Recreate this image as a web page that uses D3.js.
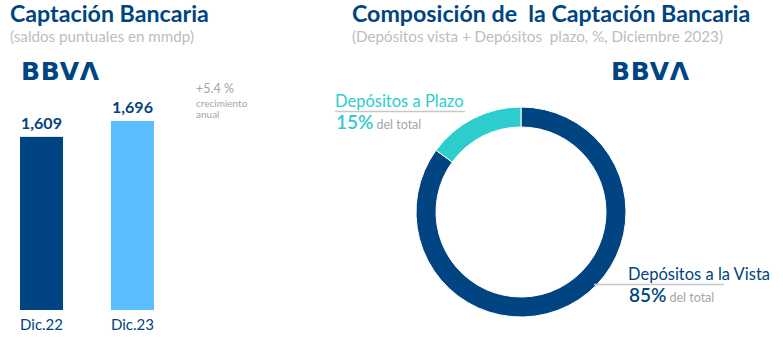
<!DOCTYPE html>
<html>
<head>
<meta charset="utf-8">
<script src="https://cdn.jsdelivr.net/npm/d3@7/dist/d3.min.js"></script>
<style>
  html, body { margin: 0; padding: 0; background: #fff; }
  svg { display: block; font-family: Lato, "Open Sans", sans-serif; }
</style>
</head>
<body>
<svg id="chart" width="783" height="348"></svg>
<script>
// Balances (mmdp)
const periods = ["Dic.22", "Dic.23"];
const balances = [1609, 1696];
const balanceLabels = ["1,609", "1,696"];
const growthText = "+5.4 %";

// Deposit composition, December 2023 (%)
const depositTypes = ["Depósitos a la Vista", "Depósitos a Plazo"];
const depositShares = [85, 15];

const navy = "#004481";
const lightBlue = "#5bbeff";
const teal = "#2dcccd";
const grey = "#bdbdbd";

const svg = d3.select("#chart");

// ---------- Titles ----------
svg.append("text").attr("x", 10).attr("y", 22)
  .attr("font-size", 23.2).attr("font-weight", 700).attr("fill", navy)
  .text("Captación Bancaria");
svg.append("text").attr("x", 10).attr("y", 42)
  .attr("font-size", 15.2).attr("fill", grey)
  .text("(saldos puntuales en mmdp)");

svg.append("text").attr("x", 352).attr("y", 22)
  .attr("font-size", 23.2).attr("font-weight", 700).attr("fill", navy)
  .style("white-space", "pre")
  .text("Composición de  la Captación Bancaria");
svg.append("text").attr("x", 352).attr("y", 42)
  .attr("font-size", 15.2).attr("fill", grey)
  .style("white-space", "pre")
  .text("(Depósitos vista + Depósitos  plazo, %, Diciembre 2023)");

// ---------- Logos ----------
function logo(x, y) {
  const t = svg.append("text").attr("x", x).attr("y", y)
    .attr("font-family", "DejaVu Sans, sans-serif")
    .attr("font-size", 25).attr("font-weight", 700).attr("fill", navy)
    .attr("letter-spacing", 0.8);
  t.append("tspan").text("BBV");
  t.append("tspan").text("Λ");
}
logo(21, 80);
logo(611, 80);

// ---------- Bar chart ----------
const x = d3.scaleBand().domain(periods).range([20, 154]).paddingInner(0.527).paddingOuter(0);
const y = d3.scaleLinear().domain([660, 1696]).range([310, 121]);
const barColors = d3.scaleOrdinal().domain(periods).range([navy, lightBlue]);

svg.append("g").selectAll("rect").data(periods).join("rect")
  .attr("x", d => x(d))
  .attr("y", (d, i) => y(balances[i]))
  .attr("width", x.bandwidth())
  .attr("height", (d, i) => y.range()[0] - y(balances[i]))
  .attr("fill", d => barColors(d));

svg.append("g").selectAll("text").data(periods).join("text")
  .attr("x", d => x(d) + x.bandwidth() / 2)
  .attr("y", (d, i) => y(balances[i]) - 8)
  .attr("text-anchor", "middle")
  .attr("font-size", 16).attr("font-weight", 700).attr("fill", navy)
  .text((d, i) => balanceLabels[i]);

const xAxis = svg.append("g").attr("transform", "translate(0,310)")
  .call(d3.axisBottom(x).tickSize(0).tickPadding(6));
xAxis.select(".domain").remove();
xAxis.selectAll("text")
  .attr("font-family", "Lato, sans-serif")
  .attr("font-size", 15).attr("fill", navy).attr("dy", "0.95em");

// Growth annotation
svg.append("text").attr("x", 196).attr("y", 93)
  .attr("font-size", 12.5).attr("fill", "#a6a6a6").text(growthText);
svg.append("text").attr("x", 196).attr("y", 107)
  .attr("font-size", 10).attr("fill", "#a6a6a6").text("crecimiento");
svg.append("text").attr("x", 196).attr("y", 118)
  .attr("font-size", 10).attr("fill", "#a6a6a6").text("anual");

// ---------- Donut ----------
const cx = 521, cy = 212;
const pie = d3.pie().sort(null).value(d => d)(depositShares);
const arc = d3.arc().innerRadius(85).outerRadius(105);
const donutColors = [navy, teal];

svg.append("g").attr("transform", `translate(${cx},${cy})`)
  .selectAll("path").data(pie).join("path")
  .attr("d", arc)
  .attr("fill", (d, i) => donutColors[i])
  .attr("stroke", "#fff").attr("stroke-width", 1);

// Callouts
function callout(lx, ly, x1, x2, name, share, color) {
  svg.append("text").attr("x", lx).attr("y", ly)
    .attr("font-size", 16.5).attr("fill", color).text(name);
  svg.append("line").attr("x1", x1).attr("x2", x2)
    .attr("y1", ly + 4.5).attr("y2", ly + 4.5)
    .attr("stroke", "#c8c8c8").attr("stroke-width", 1.3);
  const t = svg.append("text").attr("x", lx + 1).attr("y", ly + 21.5);
  t.append("tspan").attr("font-size", 19).attr("fill", color)
    .style("font-weight", 600).text(share + "%");
  t.append("tspan").attr("dx", 3).attr("font-size", 12.5).attr("fill", "#a6a6a6").text("del total");
}
callout(335, 107, 335, 465, depositTypes[1], depositShares[1], teal);
callout(628, 280, 594, 724, depositTypes[0], depositShares[0], navy);
</script>
</body>
</html>
